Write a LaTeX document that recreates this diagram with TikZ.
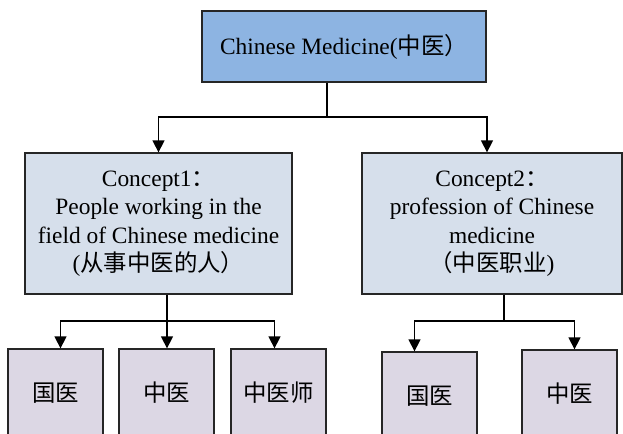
\documentclass[tikz,border=0pt]{standalone}
\usepackage{fontspec}
\setmainfont{Liberation Serif}
\newfontfamily\cjk{Noto Sans CJK SC}
\usetikzlibrary{arrows.meta,calc}
\definecolor{topblue}{RGB}{141,180,226}
\definecolor{midblue}{RGB}{214,223,235}
\definecolor{lowlilac}{RGB}{220,215,228}

\begin{document}
\begin{tikzpicture}[x=0.3mm,y=-0.3mm,
  box/.style={draw=black!85,line width=1.1pt,align=center,inner sep=0pt,
    font=\fontsize{20}{24.3}\selectfont},
  flow/.style={-{Triangle[length=3.6mm,width=3.6mm]},line width=1.1pt}]
\useasboundingbox (0,0) rectangle (623,433);
\clip (0,0) rectangle (623,433);
\node[box,fill=topblue,minimum width=85.2mm,minimum height=21.3mm] (top) at (344,46.5) {Chinese Medicine({\cjk 中医）}};
\node[box,fill=midblue,minimum width=80.1mm,minimum height=42.3mm] (c1) at (158.5,223.5) {Concept1{\cjk ：}\\People working in the\\field of Chinese medicine\\({\cjk 从事中医的人）}};
\node[box,fill=midblue,minimum width=78mm,minimum height=42.3mm] (c2) at (492,223.5) {Concept2{\cjk ：}\\profession of Chinese\\medicine\\{\cjk （中医职业})};
\node[box,fill=lowlilac,minimum width=28.5mm,minimum height=26.4mm] (b1) at (55.5,393) {\cjk 国医};
\node[box,fill=lowlilac,minimum width=28.5mm,minimum height=26.4mm] (b2) at (166.5,393) {\cjk 中医};
\node[box,fill=lowlilac,minimum width=28.5mm,minimum height=26.4mm] (b3) at (278.5,393) {\cjk 中医师};
\node[box,fill=lowlilac,minimum width=28.5mm,minimum height=26.4mm] (b4) at (429.5,396) {\cjk 国医};
\node[box,fill=lowlilac,minimum width=28.5mm,minimum height=26.4mm] (b5) at (569.5,394) {\cjk 中医};
\coordinate (j0) at (327,117);
\coordinate (j1) at (167,321);
\coordinate (j2) at (504,321);
\draw[flow] (top.south -| j0) -- (j0) -| (c1.north);
\draw[flow] (j0) -| ($(c2.north)+(-5,0)$);
\draw[flow] (c1.south -| j1) -- (j1) -| ($(b1.north)+(5,0)$);
\draw[flow] (j1) -- (b2.north -| j1);
\draw[flow] (j1) -| ($(b3.north)+(-4,0)$);
\draw[flow] (c2.south -| j2) -- (j2) -| ($(b4.north)+(-15,0)$);
\draw[flow] (j2) -| ($(b5.north)+(5,0)$);
\end{tikzpicture}
\end{document}
